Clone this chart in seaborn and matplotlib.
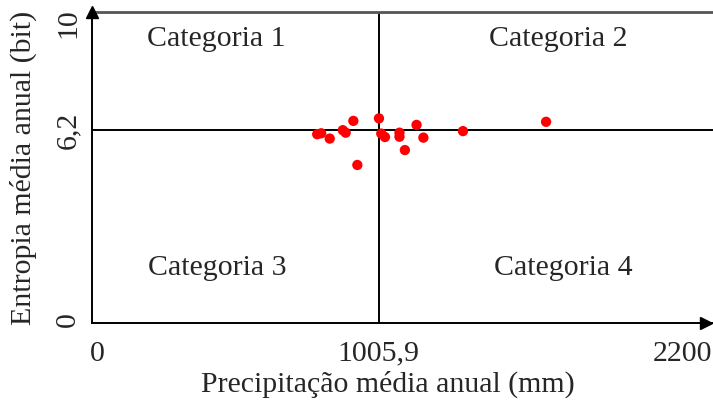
import matplotlib
matplotlib.use("Agg")
import matplotlib.pyplot as plt
import matplotlib.transforms as mtransforms
import seaborn as sns
import pandas as pd

# Annual mean precipitation (mm) and annual mean entropy (bit) per station
precipitacao = [790, 804, 834, 880, 890, 917, 931, 1007, 1015, 1028,
                1079, 1079, 1098, 1139, 1163, 1302, 1594]
entropia = [6.07, 6.10, 5.93, 6.20, 6.12, 6.50, 5.08, 6.58, 6.09, 5.98,
            6.12, 5.99, 5.56, 6.37, 5.96, 6.17, 6.47]

x_ticks = [0, 1005.9, 2200]
x_tick_labels = ["0", "1005,9", "2200"]
y_ticks = [0, 6.2, 10]
y_tick_labels = ["0", "6,2", "10"]
x_corte = 1005.9
y_corte = 6.2
categorias = ["Categoria 1", "Categoria 2", "Categoria 3", "Categoria 4"]

df = pd.DataFrame({"precipitacao": precipitacao, "entropia": entropia})

sns.set_style("white")
plt.rcParams["font.family"] = ["Liberation Serif", "DejaVu Serif"]

fs = 21.5
W, H = 713, 400
fig = plt.figure(figsize=(W / 100, H / 100), dpi=100)
# the x axis runs slightly past the right edge of the figure
ax = fig.add_axes([92.3 / W, 1 - 322.7 / H, 626.3 / W, 310.5 / H])

sns.scatterplot(data=df, x="precipitacao", y="entropia", ax=ax,
                color="#ff0000", s=55, edgecolor="none", zorder=3)

ax.axvline(x_corte, color="black", lw=1.4, zorder=2)
ax.axhline(y_corte, color="black", lw=1.4, zorder=2)

ax.set_xlim(0, 2200)
ax.set_ylim(0, 10)

ax.set_xticks(x_ticks)
ax.set_xticklabels(x_tick_labels, fontsize=fs)
ax.set_yticks(y_ticks)
ax.set_yticklabels(y_tick_labels, fontsize=fs, rotation=90, va="center")
ax.tick_params(axis="x", length=0, pad=13)
ax.tick_params(axis="y", length=0, pad=8)

def shift(label, dx=0, dy=0):
    label.set_transform(label.get_transform() +
                        mtransforms.ScaledTranslation(dx / 100, dy / 100,
                                                      fig.dpi_scale_trans))

xl = ax.get_xticklabels()
shift(xl[0], dx=5)
xl[2].set_horizontalalignment("right")
shift(xl[2], dx=-6)
yl = ax.get_yticklabels()
yl[2].set_verticalalignment("top")
shift(yl[2], dy=4)
shift(yl[0], dy=3)

ax.set_xlabel("Precipitação média anual (mm)", fontsize=fs)
ax.xaxis.set_label_coords(0.472, -0.155)
ax.xaxis.label.set_verticalalignment("top")
ax.set_ylabel("Entropia média anual (bit)", fontsize=fs, labelpad=13)

for sp in ["left", "bottom"]:
    ax.spines[sp].set_color("black")
    ax.spines[sp].set_linewidth(1.4)
ax.spines["right"].set_visible(False)
ax.spines["top"].set_color("#555555")
ax.spines["top"].set_linewidth(2)

# arrow heads at the ends of the axes
ax.plot([0], [1.0], marker="^", color="black", markersize=9,
        transform=ax.transAxes, clip_on=False, zorder=5)
ax.plot([2155], [0], marker=">", color="black", markersize=9,
        clip_on=False, zorder=5)

# quadrant labels
ax.text(435, 9.13, categorias[0], fontsize=fs, ha="center", va="center")
ax.text(1636, 9.13, categorias[1], fontsize=fs, ha="center", va="center")
ax.text(440, 1.77, categorias[2], fontsize=fs, ha="center", va="center")
ax.text(1653, 1.77, categorias[3], fontsize=fs, ha="center", va="center")

fig.savefig("out.png", dpi=100)
